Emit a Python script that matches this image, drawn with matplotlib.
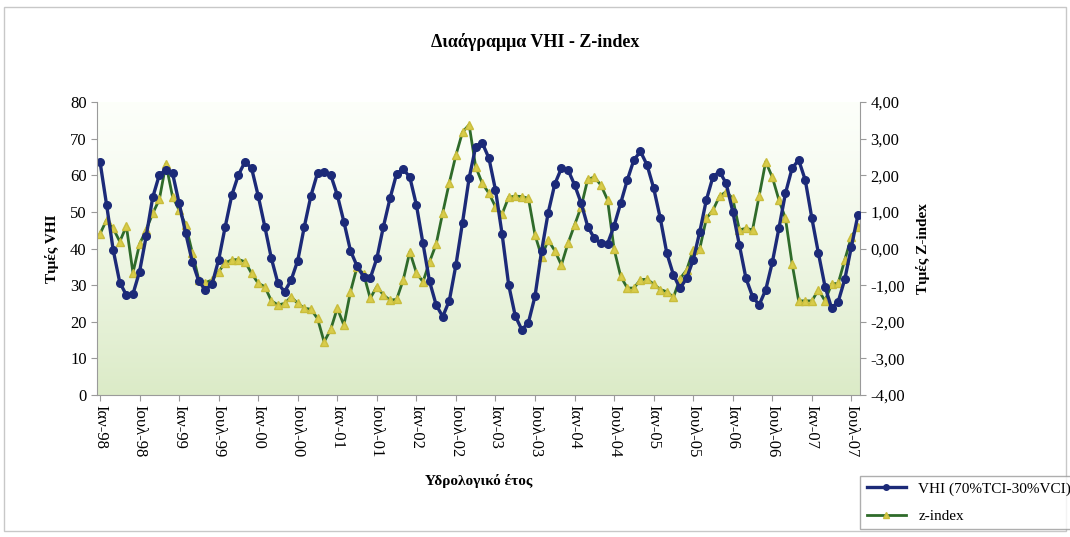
import numpy as np
import matplotlib.pyplot as plt
from matplotlib.lines import Line2D
from matplotlib.patches import Rectangle

plt.rcParams['font.family'] = ['Liberation Serif', 'DejaVu Serif']

# Monthly values, Jan-98 onwards
vhi = [63.7, 51.9, 39.6, 30.7, 27.3, 27.6, 33.7, 43.3, 54.0, 60.1,
       61.5, 60.6, 52.4, 44.2, 36.4, 31.0, 28.7, 30.3, 36.9, 46.0,
       54.6, 60.1, 63.7, 61.9, 54.4, 46.0, 37.3, 30.5, 28.2, 31.4,
       36.7, 46.0, 54.4, 60.6, 61.0, 60.1, 54.6, 47.3, 39.4, 35.2,
       32.3, 31.9, 37.3, 46.0, 53.7, 60.4, 61.7, 59.5, 51.9, 41.4,
       31.0, 24.6, 21.4, 25.8, 35.5, 47.1, 59.2, 67.8, 68.8, 64.7,
       56.0, 44.0, 30.1, 21.6, 17.8, 19.8, 27.0, 39.4, 49.8, 57.6,
       61.9, 61.5, 57.4, 52.4, 46.0, 42.8, 41.4, 41.3, 46.2, 52.4,
       58.7, 64.2, 66.5, 62.8, 56.5, 48.3, 38.7, 32.8, 29.1, 31.9,
       36.9, 44.6, 53.3, 59.6, 61.0, 57.8, 50.1, 41.0, 31.9, 26.9,
       24.6, 28.7, 36.2, 45.5, 55.1, 61.9, 64.2, 58.7, 48.3, 38.7,
       29.6, 23.7, 25.5, 31.6, 40.5, 49.2]

zidx = [0.40, 0.78, 0.55, 0.19, 0.61, -0.66, 0.12, 0.51, 0.96, 1.34,
        2.31, 1.42, 1.05, 0.64, -0.11, -0.86, -0.93, -0.86, -0.63, -0.39,
        -0.31, -0.30, -0.36, -0.68, -0.95, -1.04, -1.43, -1.54, -1.50, -1.32,
        -1.50, -1.63, -1.66, -1.91, -2.55, -2.21, -1.63, -2.09, -1.18, -0.50,
        -0.70, -1.36, -1.04, -1.27, -1.41, -1.39, -0.86, -0.09, -0.66, -0.91,
        -0.36, 0.12, 0.98, 1.80, 2.55, 3.18, 3.38, 2.23, 1.78, 1.51,
        1.14, 0.94, 1.40, 1.43, 1.42, 1.37, 0.37, -0.22, 0.23, -0.06,
        -0.45, 0.14, 0.64, 1.14, 1.89, 1.95, 1.73, 1.33, -0.02, -0.76,
        -1.08, -1.08, -0.85, -0.84, -0.97, -1.12, -1.18, -1.33, -0.82, -0.59,
        -0.04, 0.00, 0.82, 1.05, 1.43, 1.55, 1.37, 0.51, 0.55, 0.51,
        1.43, 2.37, 1.95, 1.33, 0.82, -0.41, -1.43, -1.43, -1.43, -1.13,
        -1.43, -0.97, -0.95, -0.31, 0.32, 0.60]

tick_labels = ['Ιαν-98', 'Ιουλ-98', 'Ιαν-99', 'Ιουλ-99', 'Ιαν-00', 'Ιουλ-00',
               'Ιαν-01', 'Ιουλ-01', 'Ιαν-02', 'Ιουλ-02', 'Ιαν-03', 'Ιουλ-03',
               'Ιαν-04', 'Ιουλ-04', 'Ιαν-05', 'Ιουλ-05', 'Ιαν-06', 'Ιουλ-06',
               'Ιαν-07', 'Ιουλ-07']

x = np.arange(len(vhi))
rect = [0.0907, 0.2644, 0.7130, 0.5456]

fig = plt.figure(figsize=(10.7, 5.37), dpi=100)

# background axes with the gradient (white at top, pale green at bottom)
bg = fig.add_axes(rect, zorder=0)
bg.axis('off')
grad = np.linspace(0, 1, 256).reshape(-1, 1)
top = np.array([0.99, 1.0, 0.98])
bot = np.array([0.86, 0.92, 0.78])
img = top + (bot - top) * grad[..., None] ** 1.3
bg.imshow(img.reshape(256, 1, 3), extent=[0, 1, 0, 1], aspect='auto')
bg.set_xlim(0, 1)
bg.set_ylim(0, 1)

ax2 = fig.add_axes(rect, zorder=1)
ax = fig.add_axes(rect, zorder=2, sharex=ax2)
ax.patch.set_visible(False)
ax2.patch.set_visible(False)
ax2.yaxis.tick_right()
ax2.yaxis.set_label_position('right')

ax2.plot(x, zidx, color='#2f6b2a', lw=2.0, marker='^', ms=6,
         markerfacecolor='#d8cc4a', markeredgecolor='#c9bd3c')
ax.plot(x, vhi, color='#1c2a78', lw=2.4, marker='o', ms=5.5,
        markerfacecolor='#1c2a78', markeredgecolor='#1c2a78')

ax.set_xlim(-0.45, len(vhi) - 1 + 0.3)
ax.set_ylim(0, 80)
ax.set_yticks(range(0, 81, 10))
ax2.set_ylim(-4, 4)
ax2.set_yticks(np.arange(-4, 4.01, 1))
ax2.set_yticklabels([f'{v:.2f}'.replace('.', ',') for v in np.arange(-4, 4.01, 1)])

ax.set_xticks(np.arange(0, len(vhi), 6))
ax.set_xticklabels(tick_labels, rotation=-90, fontsize=12.5)
ax2.tick_params(axis='x', bottom=False, labelbottom=False)

for a in (ax, ax2):
    for s in a.spines.values():
        s.set_color('#9a9a9a')
    a.spines['top'].set_visible(False)
    a.tick_params(colors='#9a9a9a', labelcolor='black', labelsize=12, length=4)
ax.spines['right'].set_visible(False)
ax2.spines['left'].set_visible(False)
ax2.spines['bottom'].set_visible(False)

ax.set_ylabel('Τιμές VHI', fontsize=11, fontweight='bold', labelpad=8)
ax2.set_ylabel('Τιμές Z-index', fontsize=11, fontweight='bold', labelpad=8)
ax.set_xlabel('Υδρολογικό έτος', fontsize=11, fontweight='bold', labelpad=12)

fig.text(0.5, 0.922, 'Διαάγραμμα VHI - Z-index', ha='center', va='center',
         fontsize=13, fontweight='bold')

# chart border
fig.patches.append(Rectangle((0.004, 0.012), 0.992, 0.975, transform=fig.transFigure,
                             fill=False, edgecolor='#c8c8c8', lw=1))

handles = [Line2D([], [], color='#1c2a78', lw=2.4, marker='o', ms=4),
           Line2D([], [], color='#2f6b2a', lw=2.0, marker='^', ms=5,
                  markerfacecolor='#d8cc4a', markeredgecolor='#c9bd3c')]
leg = fig.legend(handles, ['VHI (70%TCI-30%VCI)', 'z-index'], loc='lower left',
                 bbox_to_anchor=(0.797, 0.0), fontsize=11, frameon=True,
                 fancybox=False, edgecolor='#9a9a9a', handlelength=2.6,
                 borderpad=0.4, labelspacing=0.9)

fig.savefig('out.png', dpi=100)
